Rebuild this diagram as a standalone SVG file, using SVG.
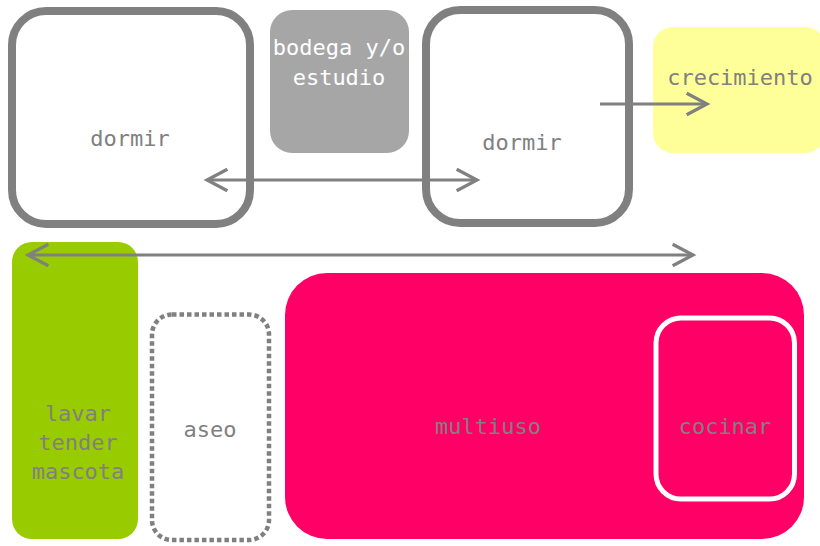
<svg xmlns="http://www.w3.org/2000/svg" width="820" height="546" viewBox="0 0 820 546">
  <style>
    text { font-family: "DejaVu Sans Mono", "Liberation Mono", monospace; font-size: 22px; text-anchor: middle; fill: #808080; }
    .white { fill: #ffffff; }
    .conn { stroke: #808080; stroke-width: 3; fill: none; }
    .bold { fill: #ffffff; stroke: #808080; stroke-width: 8; }
  </style>
  <defs>
    <marker id="arr" markerUnits="userSpaceOnUse" markerWidth="30" markerHeight="30" viewBox="-24 -14 28 28" refX="0" refY="0" orient="auto-start-reverse">
      <path d="M-19,-10 L0,0 L-19,10" fill="none" stroke="#808080" stroke-width="3"/>
    </marker>
  </defs>
  <rect width="820" height="546" fill="#ffffff"/>

  <g id="dormir1">
    <rect class="bold" x="12" y="11" width="238" height="213" rx="34"/>
    <text x="130" y="146">dormir</text>
  </g>
  <g id="bodega">
    <rect x="270" y="10" width="139" height="143" rx="22" fill="#a6a6a6"/>
    <text class="white" x="339" y="55">bodega y/o</text>
    <text class="white" x="339" y="85">estudio</text>
  </g>
  <g id="dormir2">
    <rect class="bold" x="426" y="10" width="203" height="213" rx="34"/>
    <text x="522" y="150">dormir</text>
  </g>
  <g id="crecimiento">
    <rect x="653" y="27" width="172" height="126" rx="20" fill="#ffff99"/>
    <text x="740" y="85">crecimiento</text>
  </g>
  <g id="lavar">
    <rect x="12" y="242" width="126" height="297" rx="20" fill="#99cc00"/>
    <text x="78" y="421">lavar</text>
    <text x="78" y="450">tender</text>
    <text x="78" y="479">mascota</text>
  </g>
  <g id="aseo">
    <rect x="152" y="314.5" width="117" height="225.5" rx="20" fill="none" stroke="#808080" stroke-width="4.5" stroke-dasharray="4.5 3"/>
    <text x="210" y="437">aseo</text>
  </g>
  <g id="multiuso">
    <rect x="285" y="273" width="519" height="266" rx="42" fill="#ff0066"/>
    <text x="488" y="434">multiuso</text>
  </g>
  <g id="cocinar">
    <rect x="656" y="318" width="138.5" height="181" rx="25" fill="none" stroke="#ffffff" stroke-width="5"/>
    <text x="725" y="434">cocinar</text>
  </g>

  <g id="connectors">
    <line class="conn" x1="207" y1="180" x2="477" y2="180" marker-start="url(#arr)" marker-end="url(#arr)"/>
    <line class="conn" x1="600" y1="104" x2="707" y2="104" marker-end="url(#arr)"/>
    <line class="conn" x1="28" y1="255" x2="693" y2="255" marker-start="url(#arr)" marker-end="url(#arr)"/>
  </g>
</svg>
